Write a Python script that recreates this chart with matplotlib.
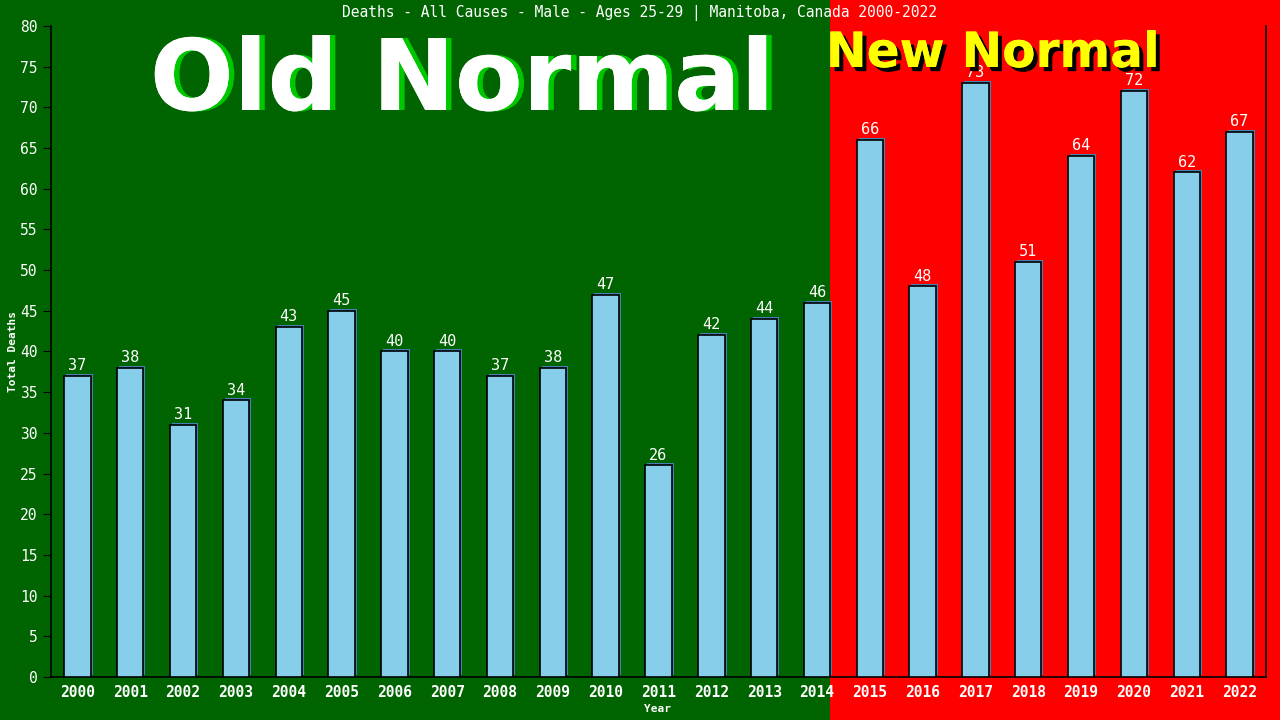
import matplotlib
matplotlib.use("Agg")
import matplotlib.pyplot as plt
from matplotlib.patches import Rectangle
import matplotlib.patheffects as pe

years = [str(y) for y in range(2000, 2023)]
deaths = [37, 38, 31, 34, 43, 45, 40, 40, 37, 38, 47, 26, 42, 44, 46,
          66, 48, 73, 51, 64, 72, 62, 67]
yticks = list(range(0, 81, 5))
title = "Deaths - All Causes - Male - Ages 25-29 | Manitoba, Canada 2000-2022"

GREEN = "#006400"
RED = "#ff0000"
BAR = "#87ceeb"
SHADOW = "#4682b4"
mono = "DejaVu Sans Mono"

fig = plt.figure(figsize=(12.8, 7.2), dpi=100)
fig.patch.set_facecolor(GREEN)
ax = fig.add_axes([51/1280, 43/720, (1266-51)/1280, (677-26)/720])
ax.set_facecolor("none")
ax.set_xlim(-0.5, len(years) - 0.5)
ax.set_ylim(0, 80)

# red background region starting at right edge of the 2014 bar
split_data = 14 + 0.25
xfig = fig.transFigure.inverted().transform(ax.transData.transform((split_data, 0)))[0]
fig.patches.append(Rectangle((xfig, 0), 1 - xfig, 1, transform=fig.transFigure,
                             facecolor=RED, edgecolor="none", zorder=-10))

x = list(range(len(years)))
# shadow bars
ax.bar(x, deaths, width=0.5, color=SHADOW, edgecolor="none", zorder=2,
       transform=ax.transData + matplotlib.transforms.ScaledTranslation(2/100, 2/100, fig.dpi_scale_trans))
ax.bar(x, deaths, width=0.5, color=BAR, edgecolor="black", linewidth=1.2, zorder=3)
for xi, v in zip(x, deaths):
    ax.annotate(str(v), (xi, v), xytext=(0, 2), textcoords="offset points",
                ha="center", va="bottom", color="white", fontsize=11,
                family=mono, zorder=4)

ax.set_xticks(x)
ax.set_xticklabels(years, family=mono, fontsize=10.5, color="white", fontweight="bold")
ax.set_yticks(yticks)
ax.set_yticklabels([str(t) for t in yticks], family=mono, fontsize=10.5, color="white")
ax.tick_params(axis="y", length=6, color="black", direction="out")
ax.tick_params(axis="x", length=0, pad=6)
for s in ["left", "bottom", "right"]:
    ax.spines[s].set_color("black")
    ax.spines[s].set_linewidth(1.2)
ax.spines["top"].set_visible(False)

fig.text(640/1280, 1 - 13/720, title, ha="center", va="center", color="white",
         family=mono, fontsize=10.5)
fig.text(657/1280, 1 - 709/720, "Year", ha="center", va="center", color="white",
         family=mono, fontsize=8, fontweight="bold")
fig.text(13/1280, 1 - 352/720, "Total Deaths", ha="center", va="center", color="white",
         family=mono, fontsize=8, fontweight="bold", rotation=90)

fig.text(462/1280, 1 - 110/720, "Old Normal", ha="center", va="baseline", color="white",
         family="DejaVu Sans", fontweight="bold", fontsize=71, zorder=5,
         path_effects=[pe.withSimplePatchShadow(offset=(4, 0), shadow_rgbFace="#00c800", alpha=1.0),
                       pe.Normal()])
fig.text(993/1280, 1 - 67/720, "New Normal", ha="center", va="baseline", color="yellow",
         family="DejaVu Sans", fontweight="bold", fontsize=35, zorder=5,
         path_effects=[pe.withSimplePatchShadow(offset=(3, -3), shadow_rgbFace="black", alpha=1.0),
                       pe.Normal()])

fig.savefig("out.png", dpi=100, facecolor=fig.get_facecolor())
